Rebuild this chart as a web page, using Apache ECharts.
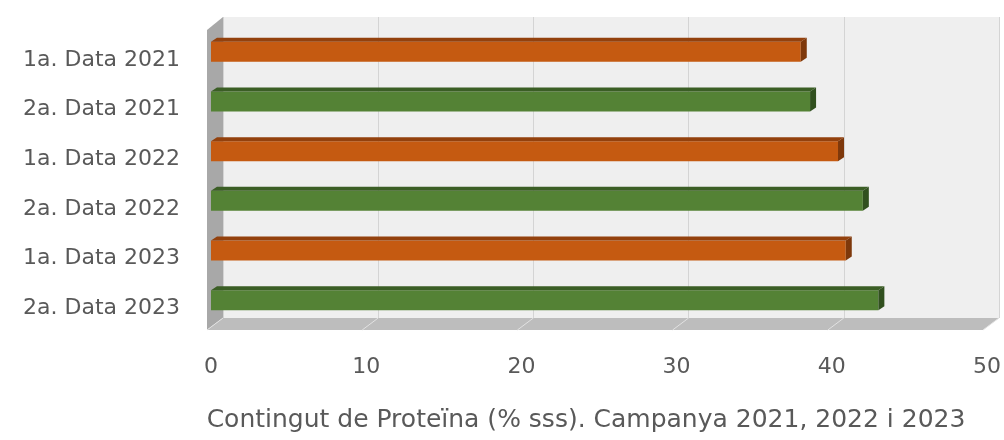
<!DOCTYPE html>
<html>
<head>
<meta charset="utf-8">
<script src="https://cdn.jsdelivr.net/npm/echarts@6/dist/echarts.min.js"></script>
<style>
  html, body { margin: 0; padding: 0; background: #fff; }
  #chart { width: 1004px; height: 440px; }
</style>
</head>
<body>
<div id="chart"></div>
<script>
const categories = ['1a. Data 2021', '2a. Data 2021', '1a. Data 2022', '2a. Data 2022', '1a. Data 2023', '2a. Data 2023'];
const values = [38.0, 38.6, 40.4, 42.0, 40.9, 43.0];
const xTicks = [0, 10, 20, 30, 40, 50];
const axisTitle = 'Contingut de Proteïna (% sss). Campanya 2021, 2022 i 2023';

// front / top / side faces for the two dates
const palette = {
  '1a': ['#c55a11', '#93410d', '#7e380b'],
  '2a': ['#548235', '#3b5e25', '#31501f']
};

const font = 'DejaVu Sans';
const chart = echarts.init(document.getElementById('chart'));

function renderBar(params, api) {
  const v = api.value(1);
  const cat = api.value(0);
  const p0 = api.coord([0, cat]);
  const p1 = api.coord([v, cat]);
  const h = 20, dx = 6, dy = 4;
  const yTop = p0[1] - h / 2 + 2;
  const yBot = yTop + h;
  const c = palette[categories[cat].slice(0, 2)];
  return {
    type: 'group',
    children: [
      { type: 'rect', shape: { x: p0[0], y: yTop, width: p1[0] - p0[0], height: h }, style: { fill: c[0] } },
      { type: 'polygon', shape: { points: [[p0[0], yTop], [p0[0] + dx, yTop - dy], [p1[0] + dx, yTop - dy], [p1[0], yTop]] }, style: { fill: c[1] } },
      { type: 'polygon', shape: { points: [[p1[0], yTop], [p1[0] + dx, yTop - dy], [p1[0] + dx, yBot - dy], [p1[0], yBot]] }, style: { fill: c[2] } }
    ]
  };
}

chart.setOption({
  animation: false,
  grid: [
    { left: 211, right: 16, top: 25, bottom: 117 },
    { left: 223, right: 5, top: 17, bottom: 122, show: true, backgroundColor: '#efefef', borderWidth: 0, z: 0 }
  ],
  xAxis: [
    {
      gridIndex: 0, type: 'value', min: 0, max: 50, interval: 10,
      axisLine: { show: false }, axisTick: { show: false }, splitLine: { show: false },
      axisLabel: { color: '#595959', fontSize: 22, fontFamily: font, margin: 33 },
      name: axisTitle, nameLocation: 'middle', nameGap: 85,
      nameTextStyle: { color: '#595959', fontSize: 25, fontFamily: font, padding: [0, 26, 0, 0] }
    },
    {
      gridIndex: 1, type: 'value', min: 0, max: 50, interval: 10,
      axisLine: { show: false }, axisTick: { show: false }, axisLabel: { show: false },
      splitLine: { show: true, lineStyle: { color: '#d4d4d4', width: 1 } }
    }
  ],
  yAxis: [
    {
      gridIndex: 0, type: 'category', data: categories, inverse: true,
      axisLine: { show: false }, axisTick: { show: false },
      axisLabel: { color: '#595959', fontSize: 22, fontFamily: font, margin: 31, verticalAlign: 'top', lineHeight: 20 }
    },
    {
      gridIndex: 1, type: 'category', data: categories, show: false
    }
  ],
  series: [
    {
      type: 'custom',
      xAxisIndex: 0, yAxisIndex: 0,
      renderItem: renderBar,
      encode: { x: 1, y: 0 },
      data: values.map((v, i) => [i, v]),
      z: 5
    }
  ]
});

// left wall and floor of the 3D box, placed from the axes
const f0 = chart.convertToPixel({ xAxisIndex: 0 }, 0) - 4;
const f50 = chart.convertToPixel({ xAxisIndex: 0 }, 50) - 4;
const b0 = chart.convertToPixel({ xAxisIndex: 1 }, 0);
const b50 = chart.convertToPixel({ xAxisIndex: 1 }, 50);
const yBack = 318, yFront = 330, yWallTop = 17;
const floorTicks = xTicks.map(t => {
  const fx = chart.convertToPixel({ xAxisIndex: 0 }, t) - 4;
  const bx = chart.convertToPixel({ xAxisIndex: 1 }, t);
  return { type: 'line', shape: { x1: fx, y1: yFront, x2: bx, y2: yBack }, style: { stroke: '#e2e2e2', lineWidth: 1 }, z: 2 };
});

chart.setOption({
  graphic: [
    { type: 'polygon', shape: { points: [[f0, yWallTop + 13], [b0, yWallTop], [b0, yBack], [f0, yFront]] }, style: { fill: '#a8a8a8' }, z: 1 },
    { type: 'polygon', shape: { points: [[f0, yFront], [b0, yBack], [b50, yBack], [f50, yFront]] }, style: { fill: '#bdbdbd' }, z: 1 }
  ].concat(floorTicks)
});
</script>
</body>
</html>
